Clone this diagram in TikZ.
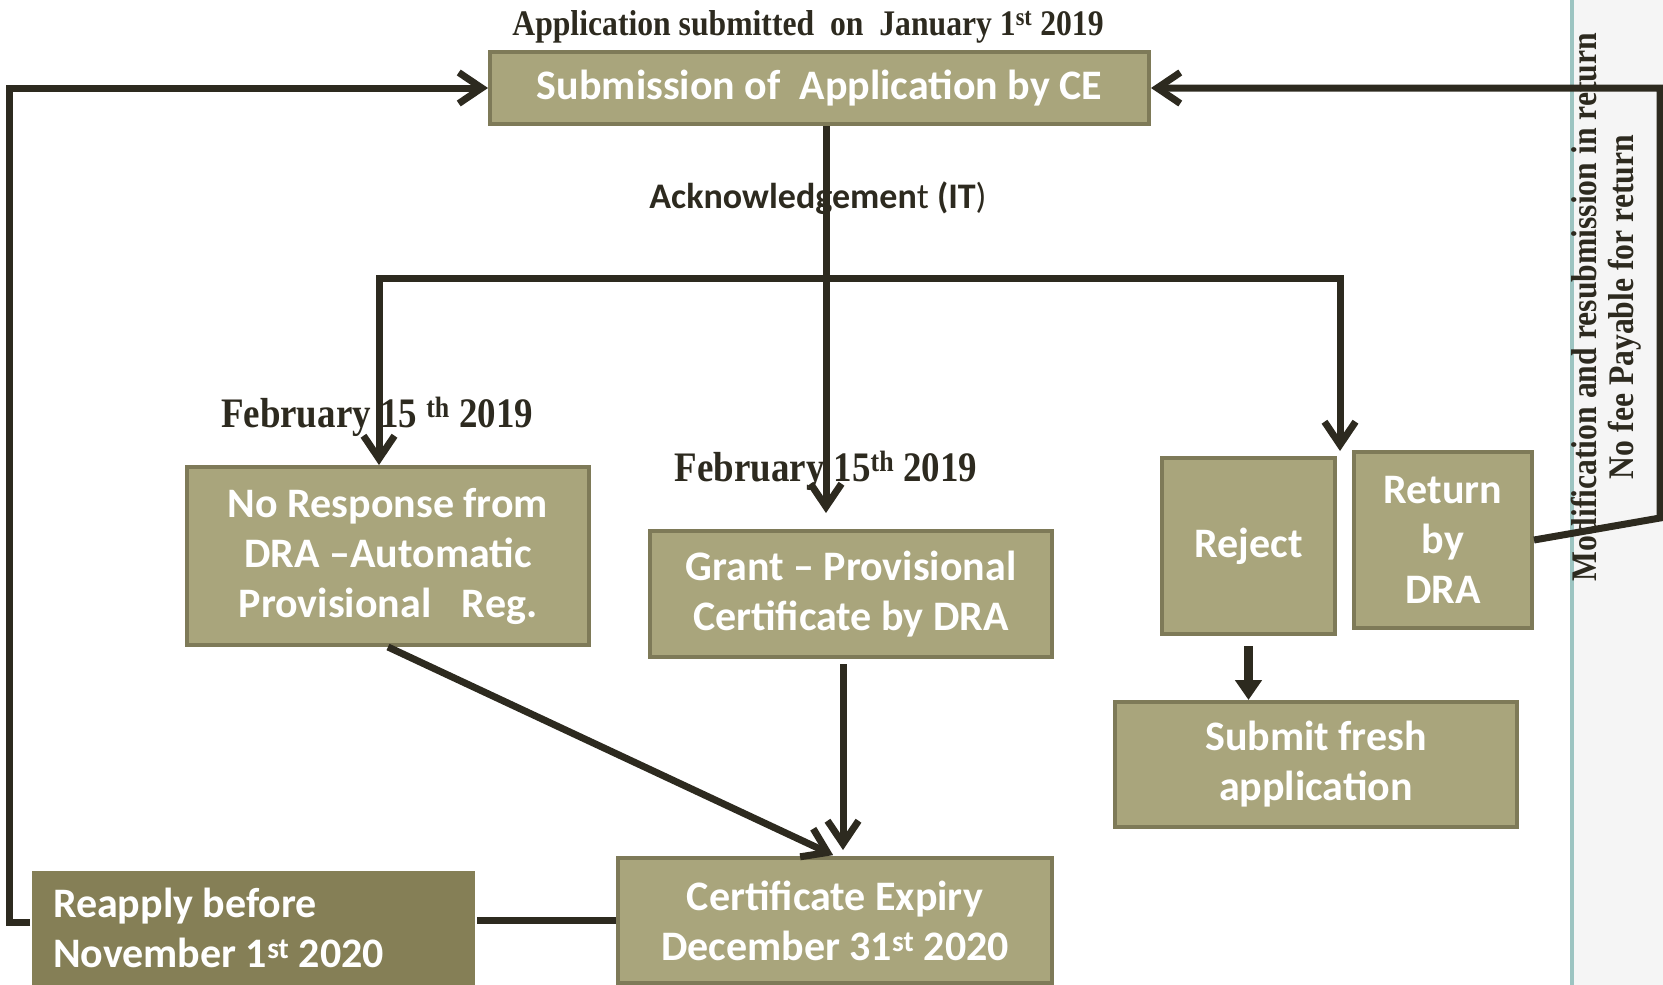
\documentclass[tikz,border=0pt]{standalone}
\usepackage{fontspec}
\usepackage{tikz}
\usetikzlibrary{arrows.meta}
\newfontfamily\boxfont{Carlito}
\newfontfamily\datefont[FakeStretch=0.88]{Liberation Serif}
\definecolor{boxfill}{HTML}{A9A57C}
\definecolor{boxedge}{HTML}{7E7A58}
\definecolor{reapplyfill}{HTML}{857F56}
\definecolor{flowline}{HTML}{2D2A1F}
\definecolor{slideline}{HTML}{9CC4C1}
\tikzstyle{stagebox} = [draw=boxedge, fill=boxfill, line width=4pt, text=white, align=center, inner sep=0, font=\boxfont\bfseries\fontsize{42}{50}\selectfont]
\tikzstyle{datelabel} = [text=flowline, inner sep=0, font=\datefont\bfseries\fontsize{36}{37}\selectfont]
\tikzstyle{flow} = [draw=flowline, line width=7pt, -{Straight Barb[length=23pt, width=31pt]}]

\begin{document}
\begin{tikzpicture}[x=1pt, y=-1pt]
      \useasboundingbox (0,0) rectangle (1663,985);
      \fill[black!4] (1572,0) rectangle (1663,985);
      \draw[slideline, line width=4pt] (1572,0) -- (1572,985);

      \node[stagebox, minimum width=659pt, minimum height=72pt] (submit) at (819.5,88) {Submission of\ \ Application by CE};
      \node[stagebox, minimum width=402pt, minimum height=178pt] (noresp) at (388,556) {No Response from\\DRA –Automatic\\Provisional\hspace{0.5em} Reg.};
      \node[stagebox, minimum width=402pt, minimum height=126pt] (grant) at (851,594) {Grant – Provisional\\Certificate by DRA};
      \node[stagebox, minimum width=173pt, minimum height=176pt] (reject) at (1248.5,546) {Reject};
      \node[stagebox, minimum width=178pt, minimum height=176pt] (retdra) at (1443,540) {Return\\by\\DRA};
      \node[stagebox, minimum width=402pt, minimum height=125pt] (fresh) at (1316,764.5) {Submit fresh\\application};
      \node[stagebox, minimum width=434pt, minimum height=125pt] (expiry) at (835,920.5) {Certificate Expiry\\December 31\textsuperscript{st} 2020};
      \node[stagebox, draw=none, fill=reapplyfill, align=left, text width=401pt, inner xsep=21pt, minimum height=114pt] (reapply) at (253.5,928) {\spaceskip=0pt\relax Reapply before\\November 1\textsuperscript{st} 2020};

      \node[datelabel, anchor=base] (appdate) at (808,35) {Application submitted\ \ on\ \ January 1\textsuperscript{st} 2019};
      \node[anchor=base, inner sep=0, text=flowline, font=\boxfont\bfseries\fontsize{36}{40}\selectfont] (ack) at (818,208) {Acknowledgemen{\mdseries t} (IT{\mdseries )}};
      \node[datelabel, anchor=base, font=\datefont\bfseries\fontsize{42}{44}\selectfont] (febleft) at (377,427) {February 15 \textsuperscript{th} 2019};
      \node[datelabel, anchor=base, font=\datefont\bfseries\fontsize{42}{44}\selectfont] (febmid) at (826,481) {February 15\textsuperscript{th} 2019};
      \node[datelabel, rotate=90, align=center] (modnote) at (1606,307) {Modification and resubmission in return\\No fee Payable for return};

      \coordinate (split) at (826,278);
      \coordinate (rettip) at (1340,451);

      \draw[flow, shorten >=16pt] ([xshift=6.5pt]submit.south) -- ([xshift=6.5pt]submit.south |- grant.north);
      \draw[flow] (split) -| ([xshift=-9pt]noresp.north);
      \draw[flow] (split) -| (rettip);
      \draw[flow, shorten >=2pt] (noresp.south) -- (expiry.north);
      \draw[flow, shorten <=5pt, shorten >=6pt] ([xshift=-8pt]grant.south) -- ([xshift=-8pt]grant.south |- expiry.north);
      \draw[flow, line width=9pt, -{Triangle[length=20pt, width=26pt]}, shorten <=10pt] (reject.south) -- (reject.south |- fresh.north);
      \draw[flow, -] (expiry.west) -- (expiry.west -| reapply.east);
      \draw[flow] ([yshift=6pt]reapply.west) -- ++(-21,0) |- (submit.west);
      \draw[flow] (retdra.east) -- ++(126,-22) |- (submit.east);
    \end{tikzpicture}
\end{document}
